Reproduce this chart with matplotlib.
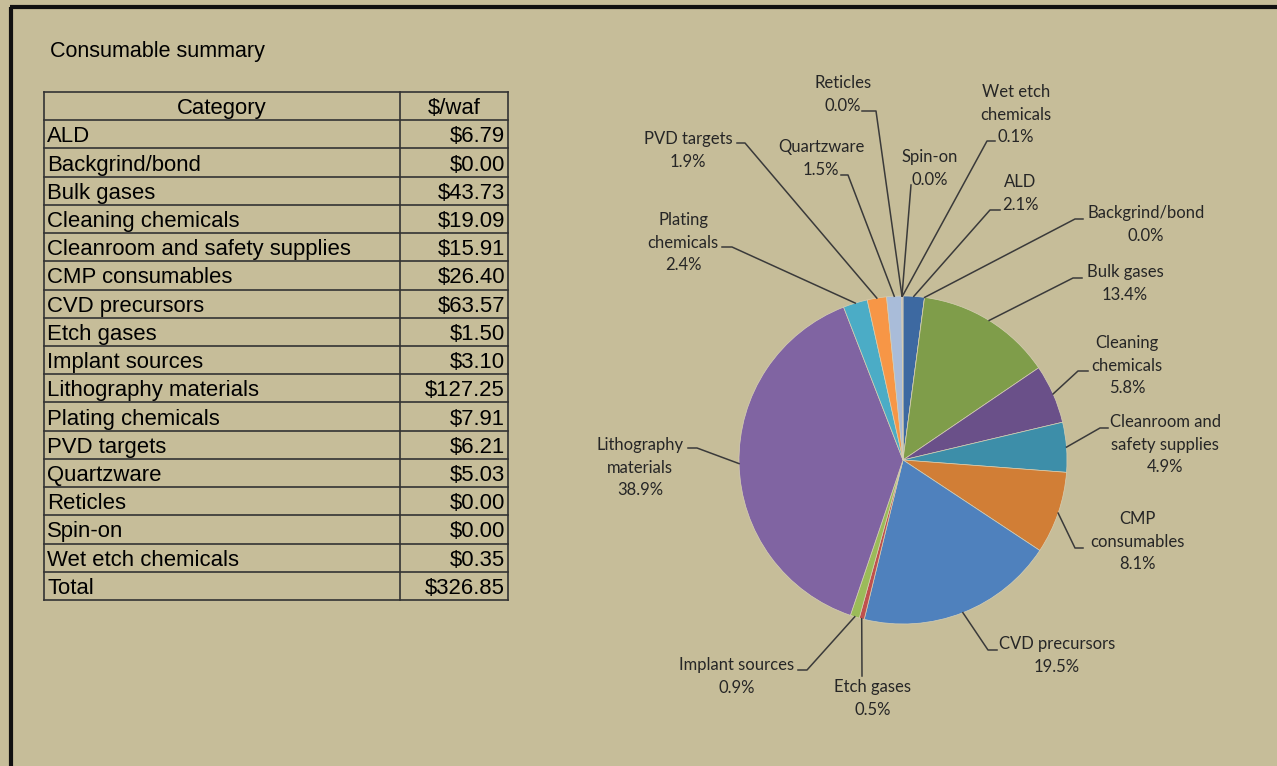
import numpy as np
import matplotlib
matplotlib.use("Agg")
import matplotlib.pyplot as plt

# consumable cost per wafer
categories = ["ALD", "Backgrind/bond", "Bulk gases", "Cleaning chemicals",
              "Cleanroom and safety supplies", "CMP consumables", "CVD precursors",
              "Etch gases", "Implant sources", "Lithography materials",
              "Plating chemicals", "PVD targets", "Quartzware", "Reticles",
              "Spin-on", "Wet etch chemicals"]
cost = [6.79, 0.00, 43.73, 19.09, 15.91, 26.40, 63.57, 1.50, 3.10, 127.25,
        7.91, 6.21, 5.03, 0.00, 0.00, 0.35]
total_text = "$326.85"

# share of total shown on the pie (%)
share = [2.1, 0.0, 13.4, 5.8, 4.9, 8.1, 19.5, 0.5, 0.9, 38.9,
         2.4, 1.9, 1.5, 0.0, 0.0, 0.1]

# pie label wording (line breaks as shown in the chart)
pie_names = ["ALD", "Backgrind/bond", "Bulk gases", "Cleaning\nchemicals",
             "Cleanroom and\nsafety supplies", "CMP\nconsumables", "CVD precursors",
             "Etch gases", "Implant sources", "Lithography\nmaterials",
             "Plating\nchemicals", "PVD targets", "Quartzware", "Reticles",
             "Spin-on", "Wet etch\nchemicals"]

colors = ["#3d69a1", "#9e3b38", "#7f9d4a", "#6a5089", "#3d8ea9", "#d17e36",
          "#4f81bd", "#c0504d", "#9bbb59", "#8064a2", "#4bacc6", "#f79646",
          "#a9bcd9", "#d99795", "#c3d69b", "#b3a2c7"]

W, H = 1277, 766
BG = "#c6bd99"
INK = "#262626"

# label layout in pixels from the top-left: (text x, first line y, elbow x, elbow y, tick end x)
label_pos = [
    (1020, 182, 990, 210, 1000),
    (1146, 213, 1075, 219, 1083),
    (1125, 272, 1073, 278, 1082),
    (1127, 343, 1078, 371, 1088),
    (1165, 422, 1100, 428, 1108),
    (1137, 519, 1075, 548, 1083),
    (1057, 644, 988, 650, 997),
    (873, 687, 862, 676, None),
    (737, 665, 807, 670, 798),
    (640, 445, 697, 448, 688),
    (683, 220, 732, 247, 722),
    (688, 139, 745, 143, 737),
    (821, 147, 848, 175, 841),
    (843, 83, 876, 111, 862),
    (930, 157, 911, 185, None),
    (1016, 92, 987, 141, 995),
]
pie_cx, pie_cy, pie_r = 903, 460, 164


def py(y):
    return H - y


fig = plt.figure(figsize=(W / 100, H / 100), dpi=100, facecolor=BG)
ax = fig.add_axes([0, 0, 1, 1])
ax.set_facecolor(BG)

# frame lines along top and left
ax.plot([10, W], [py(7), py(7)], color="#111111", lw=3, solid_capstyle="butt")
ax.plot([11, 11], [py(7), 0], color="#111111", lw=3, solid_capstyle="butt")

# ---- table ----
tfont = dict(family="Liberation Sans", fontsize=15.9, color="black")
ax.text(50, py(52), "Consumable summary", va="center", ha="left",
        family="Liberation Sans", fontsize=15.5, color="black")

x0, x1, x2 = 44, 400, 508
y_top, y_bot = 92, 600
rows = [("Category", "$/waf")] + [(c, f"${v:.2f}") for c, v in zip(categories, cost)] + [("Total", total_text)]
row_h = (y_bot - y_top) / len(rows)
lc = "#333333"
for i in range(len(rows) + 1):
    y = py(y_top + i * row_h)
    ax.plot([x0, x2], [y, y], color=lc, lw=1.2)
for x in (x0, x1, x2):
    ax.plot([x, x], [py(y_top), py(y_bot)], color=lc, lw=1.2)
for i, (name, val) in enumerate(rows):
    yc = py(y_top + (i + 0.5) * row_h) - 2.5
    if i == 0:
        ax.text((x0 + x1) / 2, yc, name, ha="center", va="center", **tfont)
        ax.text((x1 + x2) / 2, yc, val, ha="center", va="center", **tfont)
    else:
        ax.text(x0 + 3, yc, name, ha="left", va="center", **tfont)
        ax.text(x2 - 3, yc, val, ha="right", va="center", **tfont)

# ---- pie ----
wedges, _ = ax.pie(share, colors=colors, startangle=90, counterclock=False,
                   center=(pie_cx, py(pie_cy)), radius=pie_r,
                   wedgeprops=dict(edgecolor="#d6cfb4", linewidth=0.5))

lfont = dict(family="Lato", fontsize=12, color=INK)
step = 22.7
for w, name, p, (tx, ty, ex, ey, tick) in zip(wedges, pie_names, share, label_pos):
    mid = np.deg2rad((w.theta1 + w.theta2) / 2)
    sx = pie_cx + pie_r * np.cos(mid)
    sy = py(pie_cy) + pie_r * np.sin(mid)
    xs, ys = [sx, ex], [sy, py(ey)]
    if tick is not None:
        xs.append(tick)
        ys.append(py(ey))
    ax.plot(xs, ys, color="#3a3a3a", lw=1.1)
    lines = name.split("\n") + [f"{p:.1f}%"]
    for k, s in enumerate(lines):
        ax.text(tx, py(ty + k * step), s, ha="center", va="center", **lfont)

ax.set_xlim(0, W)
ax.set_ylim(0, H)
ax.set_aspect("auto")
ax.axis("off")

fig.savefig("out.png", dpi=100, facecolor=BG)
